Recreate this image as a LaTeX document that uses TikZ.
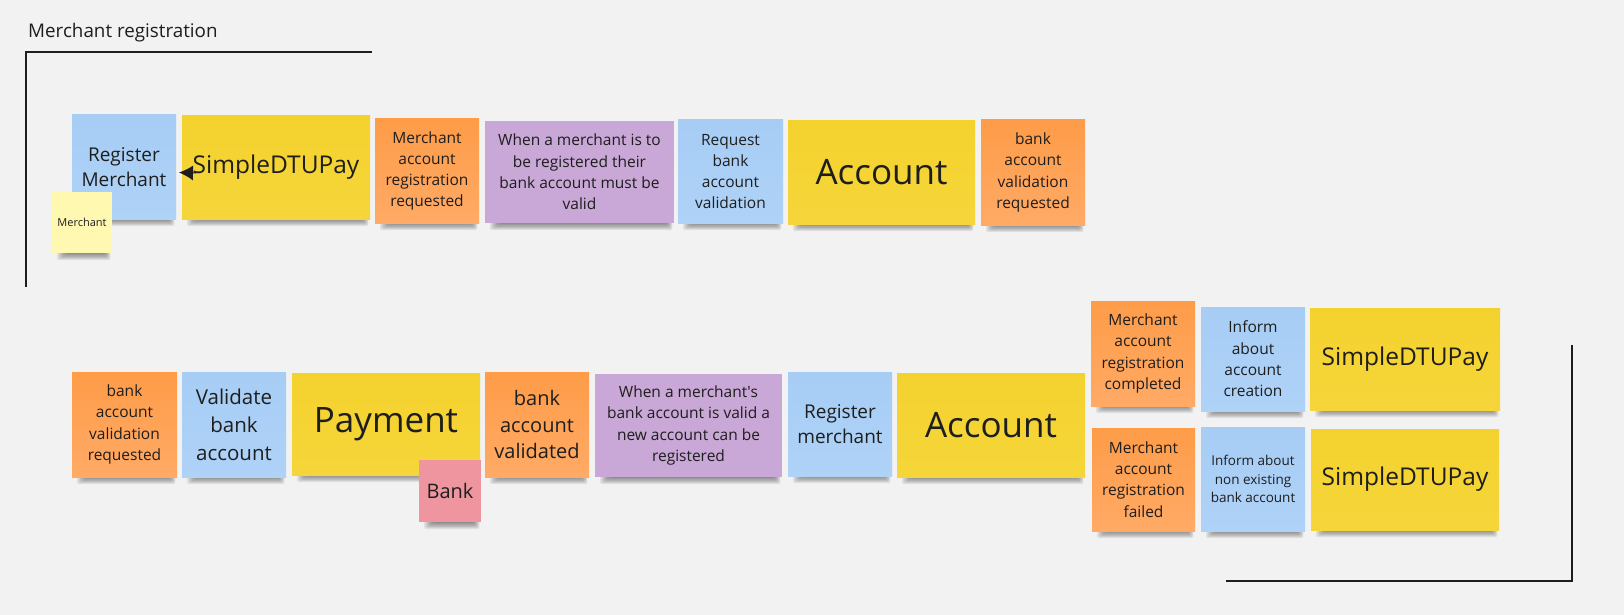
\documentclass[tikz,border=0pt]{standalone}
\usepackage{fontspec}
\setmainfont{Open Sans}
\usetikzlibrary{arrows.meta}

\definecolor{bgpaper}{HTML}{F2F2F2}
\definecolor{ink}{HTML}{1E1E1E}
\definecolor{nblue}{HTML}{A7CDF5}
\definecolor{nbluelo}{HTML}{AFD2F7}
\definecolor{nyellow}{HTML}{F4D22E}
\definecolor{nyellowlo}{HTML}{F5D53A}
\definecolor{norange}{HTML}{FE9C48}
\definecolor{norangelo}{HTML}{FFAA66}
\definecolor{nviolet}{HTML}{C9A7D6}
\definecolor{npale}{HTML}{FFF8B0}
\definecolor{npink}{HTML}{EF959F}

\tikzset{
  note/.style={rectangle, inner sep=0pt, outer sep=0pt, align=center, text=ink},
  blu/.style={top color=nblue, bottom color=nbluelo},
  yel/.style={top color=nyellow, bottom color=nyellowlo},
  ora/.style={top color=norange, bottom color=norangelo},
  vio/.style={fill=nviolet},
  pal/.style={fill=npale},
  pnk/.style={fill=npink},
  sza/.style={font=\fontsize{11pt}{15pt}\selectfont},
  szb/.style={font=\fontsize{13.5pt}{18.6pt}\selectfont},
  szc/.style={font=\fontsize{15.5pt}{21.3pt}\selectfont},
  szd/.style={font=\fontsize{19pt}{25.5pt}\selectfont},
  sze/.style={font=\fontsize{20.5pt}{28pt}\selectfont},
  szf/.style={font=\fontsize{24.5pt}{30pt}\selectfont},
  szg/.style={font=\fontsize{35pt}{42pt}\selectfont},
  frame/.style={draw=ink, line width=2pt},
  pointer/.style={draw=ink, line width=1pt, -{Latex[length=14pt,width=15pt]}},
}

% soft curled shadow under the lower edge of a note: x1, x2, bottom
\newcommand\noteshade[3]{%
  \foreach \k in {0,...,6}{%
    \fill[black, opacity=0.075, rounded corners=2pt]
      ({#1+14-1.5*\k},{#3-8}) rectangle ({#2-7+0.9*\k},{#3+0.5+1.1*\k});}}

% sticky note: name, x1, y1, x2, y2, style, text
\newcommand\sticky[7]{%
  \noteshade{#2}{#4}{#5}
  \node[note, #6, anchor=north west, minimum width={#4-#2}, minimum height={#5-#3}]
    (#1) at (#2,#3) {#7};}

\begin{document}
\begin{tikzpicture}[x=1pt, y=-1pt]
  \useasboundingbox (0,0) rectangle (1624,615);
  \fill[bgpaper] (0,0) rectangle (1624,615);

  % frame and title
  \node[anchor=base west, text=ink, font=\fontsize{18.8pt}{22pt}\selectfont, inner sep=0pt]
    (title) at (28,37.5) {Merchant registration};
  \coordinate (tlA) at (372,52);
  \coordinate (tlB) at (26,52);
  \coordinate (tlC) at (26,287);
  \draw[frame] (tlA) -- (tlB) -- (tlC);
  \coordinate (brA) at (1572,345);
  \coordinate (brB) at (1572,581);
  \coordinate (brC) at (1226,581);
  \draw[frame] (brA) -- (brB) -- (brC);

  % first row
  \sticky{regA}{72}{115}{176}{219}{blu, szd}{Register\\Merchant}
  \sticky{simpleA}{182}{116}{370}{219}{yel, szf}{SimpleDTUPay}
  \sticky{mreq}{375}{119}{479}{223}{ora, szc}{Merchant\\account\\registration\\requested}
  \sticky{polA}{485}{121}{674}{223}{vio, szc}{When a merchant is to\\be registered their\\bank account must be\\valid}
  \sticky{reqval}{678}{120}{783}{223}{blu, szc}{Request\\bank\\account\\validation}
  \sticky{accA}{788}{121}{975}{224}{yel, szg}{Account}
  \sticky{bvreqA}{981}{120}{1085}{225}{ora, szc}{bank\\account\\validation\\requested}
  \sticky{actor}{52}{192}{112}{253}{pal, sza}{Merchant}

  \draw[pointer] ([xshift=14pt, yshift=-5.5pt]simpleA.west) -- ([xshift=3pt, yshift=-5.5pt]regA.east);

  % second row
  \sticky{bvreqB}{72}{372}{177}{477}{ora, szc}{bank\\account\\validation\\requested}
  \sticky{valB}{182}{372}{286}{477}{blu, sze}{Validate\\bank\\account}
  \sticky{pay}{292}{373}{480}{475}{yel, szg}{Payment}
  \sticky{bank}{419}{460}{481}{522}{pnk, font=\fontsize{20pt}{24pt}\selectfont}{Bank}
  \sticky{bvd}{485}{372}{589}{477}{ora, font=\fontsize{20pt}{26.7pt}\selectfont}{bank\\account\\validated}
  \sticky{polB}{595}{374}{782}{477}{vio, szc}{When a merchant\textquotesingle s\\bank account is valid a\\new account can be\\registered}
  \sticky{regB}{788}{372}{892}{476}{blu, szd}{Register\\merchant}
  \sticky{accB}{897}{373}{1085}{477}{yel, szg}{Account}

  % outcomes
  \sticky{done}{1091}{301}{1195}{406}{ora, szc}{Merchant\\account\\registration\\completed}
  \sticky{infoA}{1201}{307}{1305}{411}{blu, szc}{Inform\\about\\account\\creation}
  \sticky{simpleB}{1310}{308}{1500}{410}{yel, szf}{SimpleDTUPay}
  \sticky{fail}{1092}{428}{1195}{531}{ora, szc}{Merchant\\account\\registration\\failed}
  \sticky{infoB}{1201}{427}{1305}{531}{blu, szb}{Inform about\\non existing\\bank account}
  \sticky{simpleC}{1311}{429}{1499}{530}{yel, szf}{SimpleDTUPay}
\end{tikzpicture}
\end{document}
